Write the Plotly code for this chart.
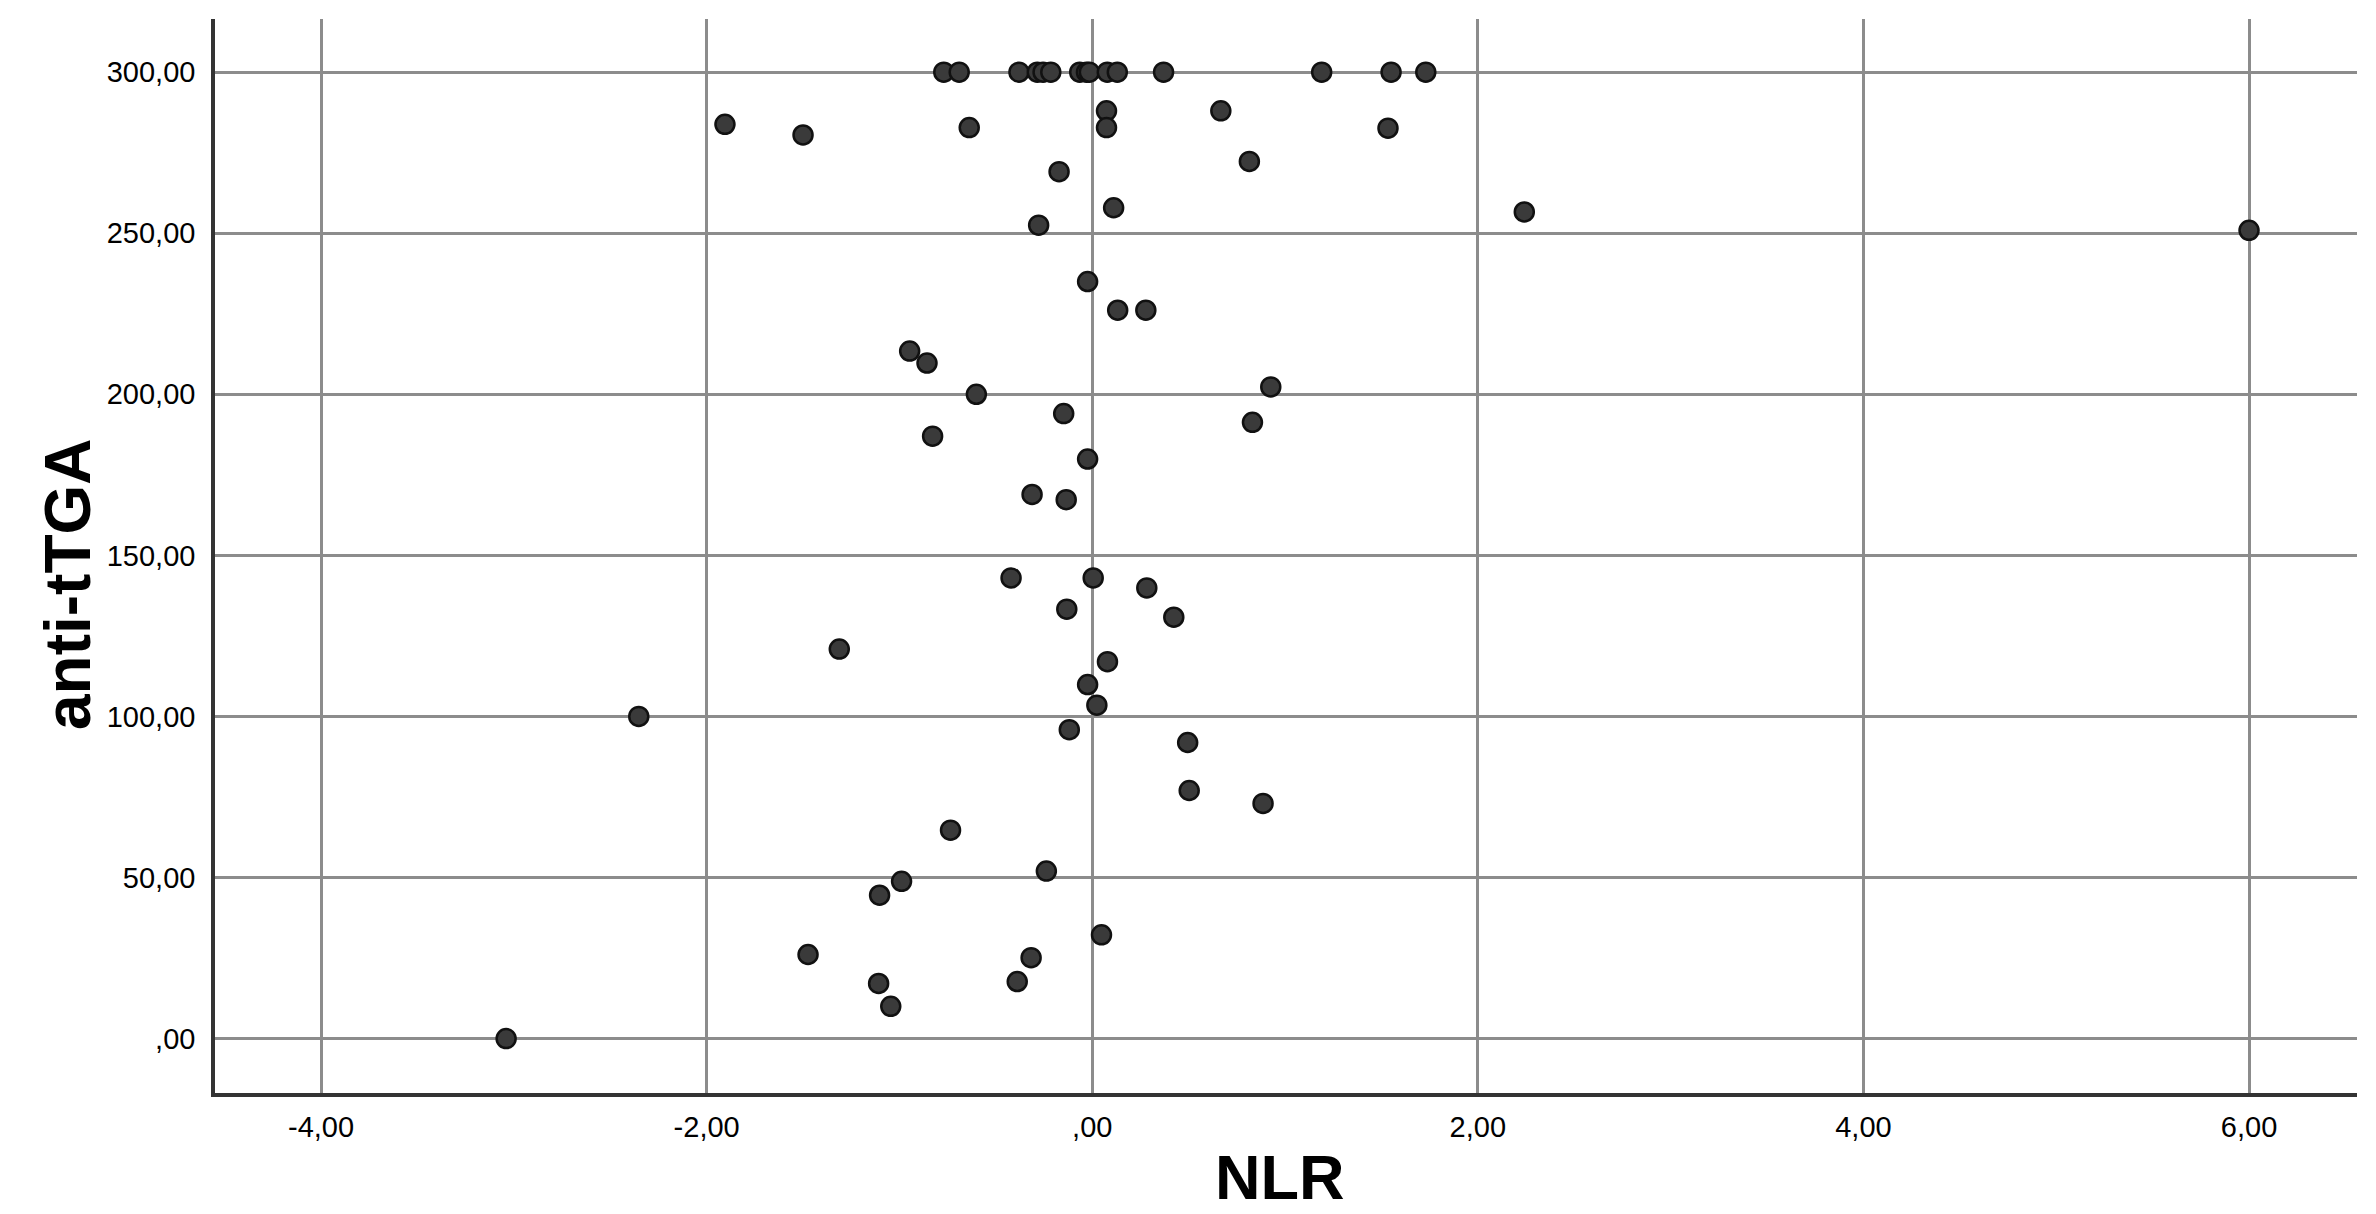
import plotly.graph_objects as go

# NLR (x) and anti-tTGA (y) values
nlr = [
    -0.77, -0.69, -0.38, -0.285, -0.255, -0.215, -0.065, -0.03, -0.015, 0.078, 0.13, 0.37, 1.19, 1.55, 1.73,
    -1.905, -1.50, -0.638, 0.074, 0.074, 0.667, 1.534, 0.815, -0.172, 0.111, 2.241, -0.278, 6.00,
    -0.024, 0.132, 0.278, -0.947, -0.857, -0.601, 0.926, -0.148, 0.831, -0.828, -0.024,
    -0.312, -0.135, -0.421, 0.005, 0.283, -0.132, 0.423, -1.312, 0.079, -0.024, 0.024,
    -2.352, -0.119, 0.495, 0.503, 0.886, -0.735, -0.238, -0.989, -1.103, 0.048,
    -1.474, -0.317, -1.108, -0.389, -1.045, -3.04,
]
anti_ttga = [
    300, 300, 300, 300, 300, 300, 300, 300, 300, 300, 300, 300, 300, 300, 300,
    283.8, 280.5, 282.8, 288.0, 282.8, 288.0, 282.6, 272.3, 269.1, 257.9, 256.6, 252.5, 250.9,
    235.0, 226.1, 226.1, 213.4, 209.7, 200.0, 202.3, 194.0, 191.3, 187.0, 179.9,
    168.9, 167.3, 143.0, 143.0, 139.9, 133.3, 130.8, 120.9, 117.0, 109.9, 103.5,
    100.0, 95.9, 91.9, 77.0, 73.0, 64.7, 52.0, 48.8, 44.5, 32.2,
    26.1, 25.1, 17.1, 17.7, 10.0, 0.0,
]

x_tick_vals = [-4, -2, 0, 2, 4, 6]
x_tick_text = ["-4,00", "-2,00", ",00", "2,00", "4,00", "6,00"]
y_tick_vals = [0, 50, 100, 150, 200, 250, 300]
y_tick_text = [",00", "50,00", "100,00", "150,00", "200,00", "250,00", "300,00"]

x_title = "NLR"
y_title = "anti-tTGA"

font_family = "Liberation Sans, Arial, sans-serif"
grid_color = "#8c8c8c"
axis_color = "#333333"

fig = go.Figure()
fig.add_trace(go.Scatter(
    x=nlr, y=anti_ttga, mode="markers",
    marker=dict(size=19, color="#3a3a3a", line=dict(color="#111111", width=2.5)),
    showlegend=False, hoverinfo="x+y",
))

fig.update_layout(
    width=2376, height=1214,
    margin=dict(l=215, r=19, t=19, b=121),
    paper_bgcolor="white", plot_bgcolor="white",
    font=dict(family=font_family, color="black"),
    xaxis=dict(
        range=[-4.55, 6.56], tickvals=x_tick_vals, ticktext=x_tick_text,
        showgrid=True, gridcolor=grid_color, gridwidth=2.5, zeroline=False,
        showline=True, linecolor=axis_color, linewidth=3.5, ticks="",
        tickfont=dict(size=29, family=font_family, color="black"),
        ticklabelstandoff=5,
    ),
    yaxis=dict(
        range=[-16.9, 316.5], tickvals=y_tick_vals, ticktext=y_tick_text,
        showgrid=True, gridcolor=grid_color, gridwidth=2.5, zeroline=False,
        showline=True, linecolor=axis_color, linewidth=3.5, ticks="",
        tickfont=dict(size=29, family=font_family, color="black"),
        ticklabelstandoff=10,
    ),
    annotations=[
        dict(text="<b>%s</b>" % x_title, xref="paper", yref="paper", x=0.497, y=-0.1118,
             xanchor="center", yanchor="bottom", showarrow=False, borderpad=0,
             font=dict(size=63, family=font_family, color="black")),
        dict(text="<b>%s</b>" % y_title, xref="paper", yref="paper", x=-0.0686, y=0.474,
             xanchor="center", yanchor="middle", showarrow=False, textangle=-90,
             font=dict(size=64, family=font_family, color="black")),
    ],
)

fig.write_html(
    "out.html",
    config={"displayModeBar": False},
    post_script="document.body.style.margin='0px';document.body.style.overflow='hidden';",
)
